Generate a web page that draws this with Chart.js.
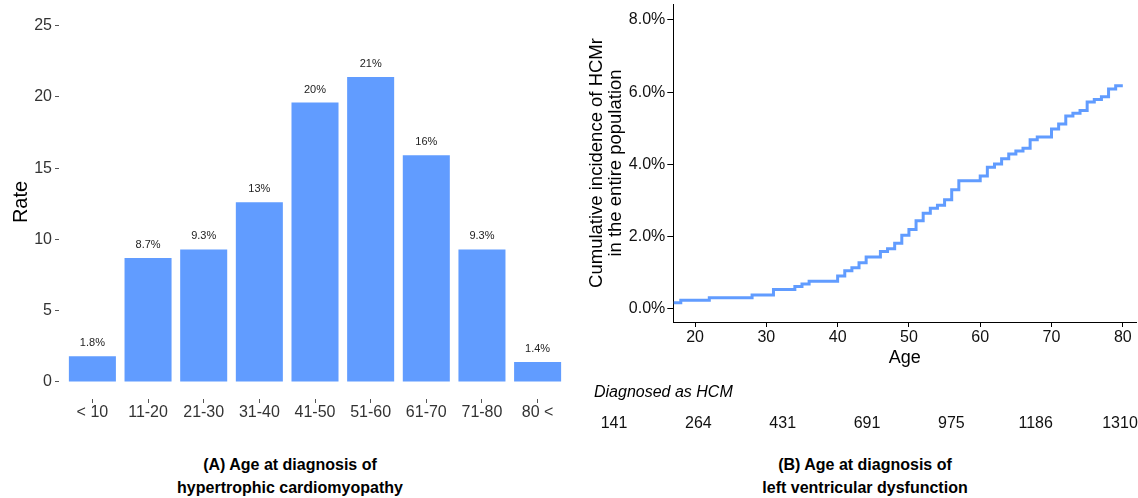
<!DOCTYPE html>
<html><head><meta charset="utf-8">
<script src="https://cdn.jsdelivr.net/npm/chart.js@4"></script>
<style>
html,body{margin:0;padding:0;background:#fff;}
body{width:1138px;height:498px;position:relative;overflow:hidden;font-family:"Liberation Sans",Arial,sans-serif;}
canvas{position:absolute;}
#cA{left:0;top:0;}
#cB{left:575px;top:0;}
#cR{left:580px;top:400px;}
.txt{position:absolute;white-space:nowrap;color:#000;}
#riskHead{left:594px;top:382px;font-style:italic;font-size:16px;line-height:20px;}
.cap{font-weight:bold;font-size:16px;line-height:23px;text-align:center;width:400px;}
#capA{left:90px;top:452.5px;}
#capB{left:665px;top:452.5px;}
</style></head>
<body>
<canvas id="cA" width="575" height="440"></canvas>
<canvas id="cB" width="563" height="370"></canvas>
<canvas id="cR" width="570" height="40"></canvas>
<div class="txt" id="riskHead">Diagnosed as HCM</div>
<div class="txt cap" id="capA">(A) Age at diagnosis of<br>hypertrophic cardiomyopathy</div>
<div class="txt cap" id="capB">(B) Age at diagnosis of<br>left ventricular dysfunction</div>
<script>
// ---- data: panel A ----
const ageGroups = ['< 10','11-20','21-30','31-40','41-50','51-60','61-70','71-80','80 <'];
const rates = [1.8, 8.7, 9.3, 12.6, 19.6, 21.4, 15.9, 9.3, 1.4];
const rateLabels = ['1.8%','8.7%','9.3%','13%','20%','21%','16%','9.3%','1.4%'];
const rateTicks = [0, 5, 10, 15, 20, 25];
// ---- data: panel B ----
const ages = [17,18,22,28,31,34,35,36,40,41,42,43,44,46,47,48,49,50,51,52,53,54,55,56,57,60,61,62,63,64,65,66,67,68,70,71,72,73,74,75,76,77,78,79,80];
const cumInc = [0.17,0.24,0.31,0.39,0.54,0.62,0.69,0.77,0.91,1.06,1.14,1.28,1.44,1.59,1.67,1.82,2.04,2.20,2.44,2.65,2.79,2.87,3.02,3.30,3.55,3.68,3.92,4.01,4.16,4.29,4.37,4.45,4.68,4.76,4.98,5.12,5.34,5.42,5.49,5.73,5.80,5.87,6.09,6.18,6.18];
const ageTicks = [20, 30, 40, 50, 60, 70, 80];
const pctTicks = [0, 2, 4, 6, 8];
const riskCounts = [141, 264, 431, 691, 975, 1186, 1310];

const FONT = '"Liberation Sans", Arial, sans-serif';
Chart.defaults.font.family = FONT;
Chart.defaults.animation = false;
Chart.defaults.responsive = false;
Chart.defaults.devicePixelRatio = 1;
Chart.defaults.plugins.legend.display = false;
Chart.defaults.plugins.tooltip.enabled = false;

const barLabelPlugin = {
  id: 'barLabels',
  afterDatasetsDraw(chart) {
    const ctx = chart.ctx;
    const meta = chart.getDatasetMeta(0);
    ctx.save();
    ctx.font = '11px ' + FONT;
    ctx.fillStyle = '#222';
    ctx.textAlign = 'center';
    ctx.textBaseline = 'middle';
    meta.data.forEach((bar, i) => ctx.fillText(rateLabels[i], bar.x, bar.y - 13));
    ctx.restore();
  }
};

new Chart(document.getElementById('cA'), {
  type: 'bar',
  data: { datasets: [{
    data: rates.map((v, i) => ({ x: i, y: v })),
    backgroundColor: '#619CFF',
    borderWidth: 0,
    barPercentage: 0.845,
    categoryPercentage: 1
  }]},
  options: {
    layout: { padding: { top: 5, right: 4, left: 0, bottom: 0 } },
    scales: {
      x: {
        type: 'linear', min: -0.6, max: 8.6, offset: false,
        afterBuildTicks: s => { s.ticks = ageGroups.map((_, i) => ({ value: i })); },
        afterFit: s => { s.height = 41; },
        border: { display: false },
        grid: { offset: false, drawOnChartArea: false, drawTicks: true, tickLength: 4, color: '#555', lineWidth: 1 },
        ticks: { autoSkip: false, maxRotation: 0, minRotation: 0, padding: 0, color: '#333', font: { size: 16 },
                 callback: (v, i) => ageGroups[i] }
      },
      y: {
        type: 'linear', min: -1.2, max: 26.45,
        afterBuildTicks: s => { s.ticks = rateTicks.map(v => ({ value: v })); },
        afterFit: s => { s.width = 59; },
        border: { display: false },
        grid: { drawOnChartArea: false, drawTicks: true, tickLength: 4, color: '#555', lineWidth: 1 },
        ticks: { padding: 3, color: '#333', font: { size: 16, lineHeight: 0.25 }, callback: v => String(v) },
        title: { display: true, text: 'Rate', color: '#000', font: { size: 20 }, padding: { top: 9, bottom: 0 } }
      }
    }
  },
  plugins: [barLabelPlugin]
});

new Chart(document.getElementById('cB'), {
  type: 'line',
  data: { datasets: [{
    data: ages.map((a, i) => ({ x: a, y: cumInc[i] })),
    stepped: true,
    borderColor: '#619CFF',
    borderWidth: 3,
    pointRadius: 0,
    fill: false,
    tension: 0,
    borderJoinStyle: 'miter'
  }]},
  options: {
    layout: { padding: { top: 4, right: 2, left: 0, bottom: 0 } },
    scales: {
      x: {
        type: 'linear', min: 16.95, max: 81.85,
        afterBuildTicks: s => { s.ticks = ageTicks.map(v => ({ value: v })); },
        afterFit: s => { s.height = 48; },
        border: { display: true, color: '#000', width: 1 },
        grid: { drawOnChartArea: false, drawTicks: true, tickLength: 5, color: '#000' },
        ticks: { autoSkip: false, maxRotation: 0, padding: 1, color: '#111', font: { size: 16 }, callback: v => String(v) },
        title: { display: true, text: 'Age', color: '#000', font: { size: 18 }, padding: { top: 0, bottom: 1.2 } }
      },
      y: {
        type: 'linear', min: -0.36, max: 8.44,
        afterBuildTicks: s => { s.ticks = pctTicks.map(v => ({ value: v })); },
        afterFit: s => { s.width = 98.3; },
        border: { display: true, color: '#000', width: 1 },
        grid: { drawOnChartArea: false, drawTicks: true, tickLength: 6, color: '#000' },
        ticks: { padding: 2, color: '#111', font: { size: 16, lineHeight: 0.25 }, callback: v => v.toFixed(1) + '%' },
        title: { display: true, text: ['Cumulative incidence of HCMr', 'in the entire population'], color: '#000',
                 font: { size: 18.5, lineHeight: 1.05 }, padding: { top: 12, bottom: 0 } }
      }
    }
  }
});

new Chart(document.getElementById('cR'), {
  type: 'scatter',
  data: { datasets: [{ data: [] }] },
  options: {
    layout: { padding: { left: 8.3, right: 14.4, top: 0, bottom: 0 } },
    scales: {
      x: {
        type: 'linear', min: 16.95, max: 81.85,
        afterBuildTicks: s => { s.ticks = ageTicks.map(v => ({ value: v })); },
        afterFit: s => { s.height = 25.6; },
        border: { display: false },
        grid: { display: false, drawTicks: false },
        ticks: { autoSkip: false, maxRotation: 0, padding: 0, color: '#111', font: { size: 16 },
                 callback: (v, i) => String(riskCounts[i]) }
      },
      y: { display: false }
    }
  }
});
</script>
</body></html>
